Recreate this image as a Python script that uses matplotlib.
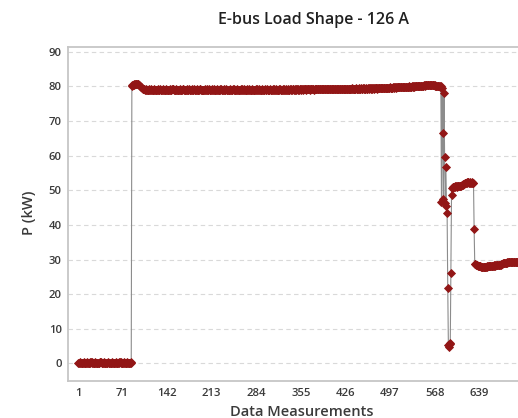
import numpy as np
import matplotlib
matplotlib.use("Agg")
import matplotlib.pyplot as plt

# ---- data ----
seg_zero = [
    0.2,0.1,0.2,0.3,0.2,0.1,0.2,0.2,0.3,0.2,
    0.1,0.2,0.2,0.1,0.3,0.2,0.2,0.1,0.2,0.3,
    0.4,0.3,0.2,0.2,0.1,0.2,0.2,0.3,0.2,0.1,
    0.2,0.2,0.1,0.2,0.3,0.4,0.3,0.2,0.2,0.1,
    0.2,0.3,0.2,0.2,0.1,0.2,0.2,0.3,0.2,0.2,
    0.1,0.2,0.2,0.3,0.2,0.1,0.2,0.2,0.1,0.2,
    0.3,0.2,0.2,0.1,0.2,0.3,0.4,0.3,0.2,0.2,
    0.1,0.2,0.2,0.3,0.2,0.1,0.2,0.2,0.3,0.2,
    0.2,0.1,0.2,0.3,0.2]
seg_rise = [
    80.2,80.3,80.5,80.6,80.5,80.7,80.8,80.7,80.6,80.8,
    80.7,80.5,80.4,80.1,79.9,79.7,79.5,79.4,79.3,79.4,
    79.2,79.1,79.3,79.1,79.0]
seg_flat1 = [
    79.1,79.0,79.2,79.1,79.0,79.1,79.2,79.0,79.1,79.1,
    79.0,79.2,79.1,79.0,78.9,79.1,79.2,79.1,79.0,79.1,
    79.2,79.1,79.0,79.1,79.1,79.3,79.1,79.0,79.1,79.2,
    79.1,79.0,78.9,79.0,79.1,79.2,79.1,79.1,79.0,79.2,
    79.3,79.2,79.1,79.0,79.1,79.1,79.2,79.0,79.1,79.0,
    79.1,79.2,79.1,79.0,79.0,79.1,79.3,79.2,79.1,79.0,
    79.0,79.1,79.2,79.1,79.1,79.0,79.2,79.1,79.0,79.1,
    79.2,79.1,79.0,79.1,79.2,79.1,79.0,79.0,79.1,79.2,
    79.1,79.0,79.1,79.2,79.3,79.1,79.0,79.1,79.1,79.0,
    79.1,79.2,79.0,79.1,79.1,79.2,79.1,79.0,79.2,79.1,
    79.0,79.1,79.1,79.2,79.0,79.1,79.2,79.1,79.0,79.1,
    79.2,79.1,79.0,79.1,79.1,79.0,79.2,79.3,79.1,79.0,
    79.1,79.1,79.2,79.0,79.1,79.2,79.1,79.0,79.1,79.1,
    79.0,79.2,79.1,79.1,79.0,79.1,79.2,79.1,79.2,79.0,
    79.1,79.0,79.1,79.2,79.1,79.0,79.1,79.1,79.2,79.1,
    79.2,79.1,79.0,79.1,79.2,79.1,79.1,79.0,79.1,79.2,
    79.1,79.2,79.1,79.0,79.1,79.1,79.2,79.1,79.0,79.1,
    79.0,79.1,79.2,79.1,79.1,79.2,79.0,79.1,79.2,79.1,
    79.1,79.1,79.0,79.2,79.1,79.0,79.1,79.2,79.1,79.1,
    79.2,79.1,79.1,79.0,79.1,79.2,79.1,79.1,79.0,79.2,
    79.1,79.0,79.2,79.1,79.2,79.1,79.0,79.1,79.1,79.2,
    79.1,79.2,79.1,79.1,79.0,79.1,79.2,79.2,79.1,79.1,
    79.2,79.1,79.1,79.2,79.1,79.0,79.1,79.2,79.1,79.2,
    79.1,79.2,79.2,79.1,79.1,79.2,79.1,79.2,79.2,79.1,
    79.2,79.1,79.2,79.2,79.1,79.2,79.3,79.1,79.2,79.2,
    79.2,79.3,79.2,79.1,79.2,79.2,79.3,79.2,79.2,79.1,
    79.2,79.2,79.3,79.2,79.2,79.1,79.2,79.3,79.2,79.2,
    79.3,79.2,79.2,79.3,79.2,79.2,79.3,79.2,79.3,79.2,
    79.2,79.3,79.2,79.3,79.3,79.2,79.2,79.3,79.2,79.3]
seg_flat2 = [
    79.3,79.2,79.3,79.3,79.2,79.3,79.4,79.3,79.2,79.3,
    79.3,79.4,79.3,79.3,79.2,79.3,79.4,79.3,79.3,79.4,
    79.3,79.3,79.4,79.3,79.4,79.3,79.3,79.4,79.4,79.3,
    79.4,79.3,79.4,79.4,79.3,79.4,79.5,79.4,79.3,79.4,
    79.4,79.4,79.5,79.4,79.3,79.4,79.4,79.5,79.4,79.4,
    79.5,79.4,79.4,79.5,79.4,79.5,79.4,79.4,79.5,79.4,
    79.4,79.5,79.5,79.4,79.5,79.4,79.5,79.5,79.4,79.5,
    79.5,79.4,79.5,79.5,79.6,79.5,79.4,79.5,79.5,79.6,
    79.5,79.5,79.6,79.5,79.5,79.6,79.5,79.6,79.5,79.5,
    79.6,79.5,79.6,79.6,79.5,79.6,79.7,79.6,79.5,79.6]
seg_flat3 = [
    79.6,79.7,79.6,79.7,79.7,79.6,79.7,79.8,79.7,79.7,
    79.8,79.7,79.8,79.7,79.8,79.8,79.9,79.8,79.8,79.9,
    79.8,79.9,79.8,79.9,79.9,79.8,79.9,80.0,79.9,79.9,
    79.9,80.0,79.9,80.0,80.0,79.9,80.0,80.1,80.0,80.0]
seg_flat4 = [
    80.0,80.1,80.0,80.1,80.2,80.1,80.2,80.2,80.1,80.2,
    80.3,80.2,80.3,80.4,80.3,80.4,80.5,80.4,80.5,80.4,
    80.5,80.4,80.3,80.4,80.3,80.4,80.3,80.2,80.3,80.2,
    80.1,80.2,80.1,80.0,80.1,80.0,79.9]
seg_drop = [80.0,46.5,79.5,66.6,47.4,78.0,59.7,46.4,56.6,45.6,
            43.3,21.8,5.3,4.8,6.0,5.5,26.2,48.6]
seg_mid = [
    50.8,50.9,51.0,50.9,51.1,51.0,51.2,51.1,51.0,51.2,
    51.1,51.3,51.2,51.1,51.3,51.4,51.5,51.6,51.8,51.9,
    52.0,52.1,52.2,52.3,52.2,52.4,52.3,52.2,52.3,52.1,
    52.2,52.3,52.2,52.1,52.0]
seg_step = [38.7]
seg_low = [
    28.8,28.6,28.5,28.4,28.3,28.2,28.1,28.1,28.0,28.0,
    27.9,27.9,27.8,27.9,27.8,27.8,27.9,27.8,27.9,27.9,
    28.0,28.0,28.1,28.0,28.1,28.1,28.2,28.2,28.1,28.2,
    28.2,28.3,28.2,28.3,28.3,28.3,28.4,28.3,28.4,28.4,
    28.5,28.4,28.6,28.7,28.8,28.9,29.0,29.0,29.1,29.0,
    29.1,29.2,29.1,29.2,29.2,29.3,29.2,29.3,29.3,29.2,
    29.3,29.4,29.3,29.2,29.3,29.4,29.3,29.3,29.4,29.3,
    29.4,29.3,29.4,29.4]

power_kw = (seg_zero + seg_rise + seg_flat1 + seg_flat2 + seg_flat3 +
            seg_flat4 + seg_drop + seg_mid + seg_step + seg_low)
measurement = np.arange(1, len(power_kw) + 1)

x_ticks = [1, 71, 142, 213, 284, 355, 426, 497, 568, 639]
y_ticks = [0, 10, 20, 30, 40, 50, 60, 70, 80, 90]

title = "E-bus Load Shape - 126 A"
x_label = "Data Measurements"
y_label = "P (kW)"

# ---- style ----
FONT = ["Open Sans", "DejaVu Sans"]
plt.rcParams["font.family"] = FONT
marker_color = "#921616"
text_color = "#3a3a3a"

W, H = 518, 418
fig = plt.figure(figsize=(W / 100, H / 100), dpi=100)

xmin, xmax = -15.7, 730
px_per_unit = 0.628
ax_left, ax_right_px = 68, 68 + (xmax - xmin) * px_per_unit
ax_top, ax_bottom = 47, 381
ax = fig.add_axes([ax_left / W, (H - ax_bottom) / H,
                   (ax_right_px - ax_left) / W, (ax_bottom - ax_top) / H])

ax.plot(measurement, power_kw, color="#8c8c8c", lw=0.8, zorder=2)
ax.plot(measurement, power_kw, ls="none", marker="D", ms=3.6,
        mfc=marker_color, mec=marker_color, mew=0.6, zorder=3)

ax.set_xlim(xmin, xmax)
ax.set_ylim(-5.1, 91.4)
ax.set_xticks(x_ticks)
ax.set_xticklabels([str(t) for t in x_ticks])
ax.set_yticks(y_ticks)
ax.set_yticklabels([str(t) for t in y_ticks])
ax.tick_params(axis="both", length=0, labelsize=8.2, labelcolor=text_color)
ax.tick_params(axis="y", pad=4.5)
ax.tick_params(axis="x", pad=5)
for lab in ax.get_xticklabels() + ax.get_yticklabels():
    lab.set_fontweight("semibold")

ax.grid(axis="y", color="#d9d9d9", lw=0.8, ls=(0, (4, 3)))
ax.set_axisbelow(True)
for side in ["left", "top", "bottom", "right"]:
    ax.spines[side].set_color("#c6c6c6")
    ax.spines[side].set_linewidth(1.3)

fig.text(313 / W, 1 - 20 / H, title, ha="center", va="center",
         fontsize=11.5, fontweight="semibold", color="#202020")
fig.text(302 / W, 1 - 411.5 / H, x_label, ha="center", va="center",
         fontsize=10.5, fontweight="semibold", color=text_color)
fig.text(29.5 / W, 1 - 213 / H, y_label, ha="center", va="center",
         rotation=90, fontsize=10.5, fontweight="semibold", color=text_color)

fig.savefig("out.png", dpi=100)
